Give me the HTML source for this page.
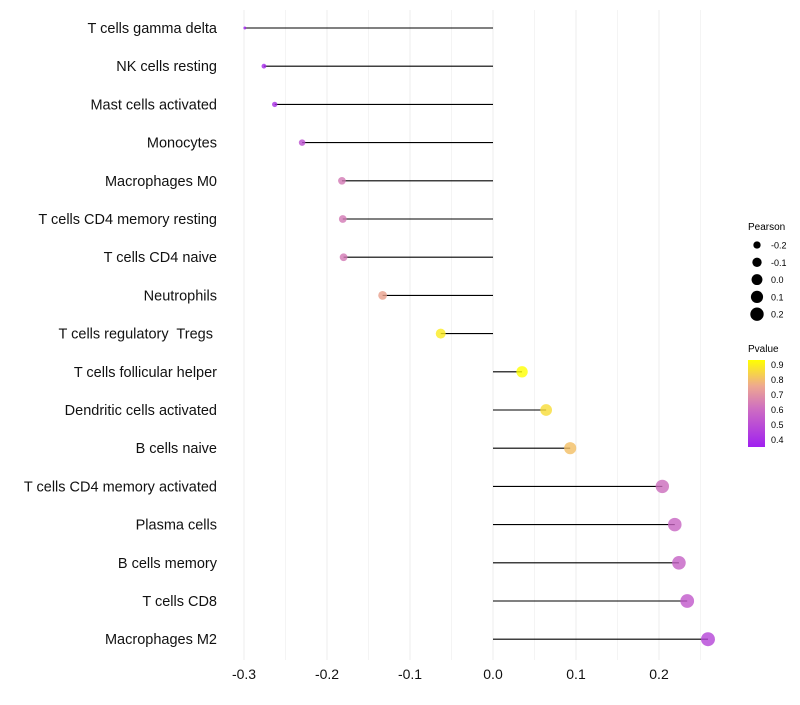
<!DOCTYPE html>
<html><head><meta charset="utf-8"><style>
body{margin:0;background:#fff;font-family:"Liberation Sans",sans-serif;}
svg text{font-family:"Liberation Sans",sans-serif;}
</style></head><body>
<svg id="chart" width="800" height="700" xmlns="http://www.w3.org/2000/svg">
<defs><linearGradient id="pgrad" x1="0" y1="1" x2="0" y2="0">
<stop offset="0" stop-color="#a020f0"/><stop offset="0.45" stop-color="#cf70c0"/><stop offset="0.7" stop-color="#eea890"/><stop offset="1" stop-color="#ffff00"/>
</linearGradient></defs>
<g id="grid"></g>
<g id="marks"></g>
<g id="ylabels"></g>
<g id="xlabels"></g>
<g id="sleg">
<text x="748" y="230" font-size="10">Pearson</text>
</g>
<g id="cleg">
<text x="748" y="352" font-size="10">Pvalue</text>
<rect x="748" y="360" width="17" height="87" fill="url(#pgrad)"/>
</g>
</svg>
<script>
const categories=["T cells gamma delta","NK cells resting","Mast cells activated","Monocytes","Macrophages M0","T cells CD4 memory resting","T cells CD4 naive","Neutrophils","T cells regulatory  Tregs ","T cells follicular helper","Dendritic cells activated","B cells naive","T cells CD4 memory activated","Plasma cells","B cells memory","T cells CD8","Macrophages M2"];
const pearson=[-0.299,-0.276,-0.263,-0.230,-0.182,-0.181,-0.180,-0.133,-0.063,0.035,0.064,0.093,0.204,0.219,0.224,0.234,0.259];
const pvalue=[0.38,0.40,0.42,0.50,0.60,0.60,0.60,0.72,0.88,0.92,0.85,0.79,0.57,0.55,0.54,0.52,0.47];
const xTicks=[-0.3,-0.2,-0.1,0.0,0.1,0.2];
const xTickLabels=["-0.3","-0.2","-0.1","0.0","0.1","0.2"];
const sizeLegendVals=[-0.2,-0.1,0.0,0.1,0.2];
const sizeLegendLabels=["-0.2","-0.1","0.0","0.1","0.2"];
const colorLegendVals=[0.4,0.5,0.6,0.7,0.8,0.9];
const colorLegendLabels=["0.4","0.5","0.6","0.7","0.8","0.9"];
const NS="http://www.w3.org/2000/svg";
const x=v=>493+v*830;
const y=i=>28+i*38.2;
const r=v=>1.2+5.8*Math.sqrt(Math.max(0,(v+0.3)/0.56));
const stops=[[0.38,[160,32,240]],[0.6,[210,120,180]],[0.75,[238,170,130]],[0.92,[255,255,0]]];
function col(p){if(p<=stops[0][0])return "rgb("+stops[0][1]+")";for(let k=1;k<stops.length;k++){if(p<=stops[k][0]){const a=stops[k-1],b=stops[k],t=(p-a[0])/(b[0]-a[0]);return "rgb("+a[1].map((c,j)=>Math.round(c+(b[1][j]-c)*t)).join(",")+")";}}return "rgb(255,255,0)";}
const cy=v=>447-(v-0.35)/0.1*15;
function mk(tag,attrs,parent){const e=document.createElementNS(NS,tag);for(const k in attrs)e.setAttribute(k,attrs[k]);document.getElementById(parent).appendChild(e);return e;}
for(let v=-0.3;v<=0.2501;v+=0.05){const major=Math.abs(Math.round(v*20))%2===0;const e=mk("line",{x1:x(v),x2:x(v),y1:10,y2:660,stroke:major?"#ececec":"#f4f4f4","stroke-width":1},"grid");

}
categories.forEach((c,i)=>{
const l=mk("line",{x1:x(0),x2:x(pearson[i]),y1:y(i),y2:y(i),stroke:"#000","stroke-width":1.1},"marks");


const d=mk("circle",{cx:x(pearson[i]),cy:y(i),r:r(pearson[i]),fill:col(pvalue[i]),"fill-opacity":0.8},"marks");


const t=mk("text",{x:217,y:y(i)+5,"text-anchor":"end","font-size":14.5,fill:"#111","xml:space":"preserve"},"ylabels");
t.style.whiteSpace="pre";t.textContent=c;


});
xTicks.forEach((v,i)=>{const t=mk("text",{x:x(v),y:679,"text-anchor":"middle","font-size":14,fill:"#111"},"xlabels");t.textContent=xTickLabels[i];

});
sizeLegendVals.forEach((v,i)=>{const yy=245+i*17.3;const c=mk("circle",{cx:757,cy:yy,r:r(v),fill:"#000"},"sleg");


const t=mk("text",{x:771,y:yy+3.5,"font-size":9},"sleg");t.textContent=sizeLegendLabels[i];

});
colorLegendVals.forEach((v,i)=>{const t=mk("text",{x:771,y:cy(v)+3.5,"font-size":9},"cleg");t.textContent=colorLegendLabels[i];

});
</script>
</body></html>
